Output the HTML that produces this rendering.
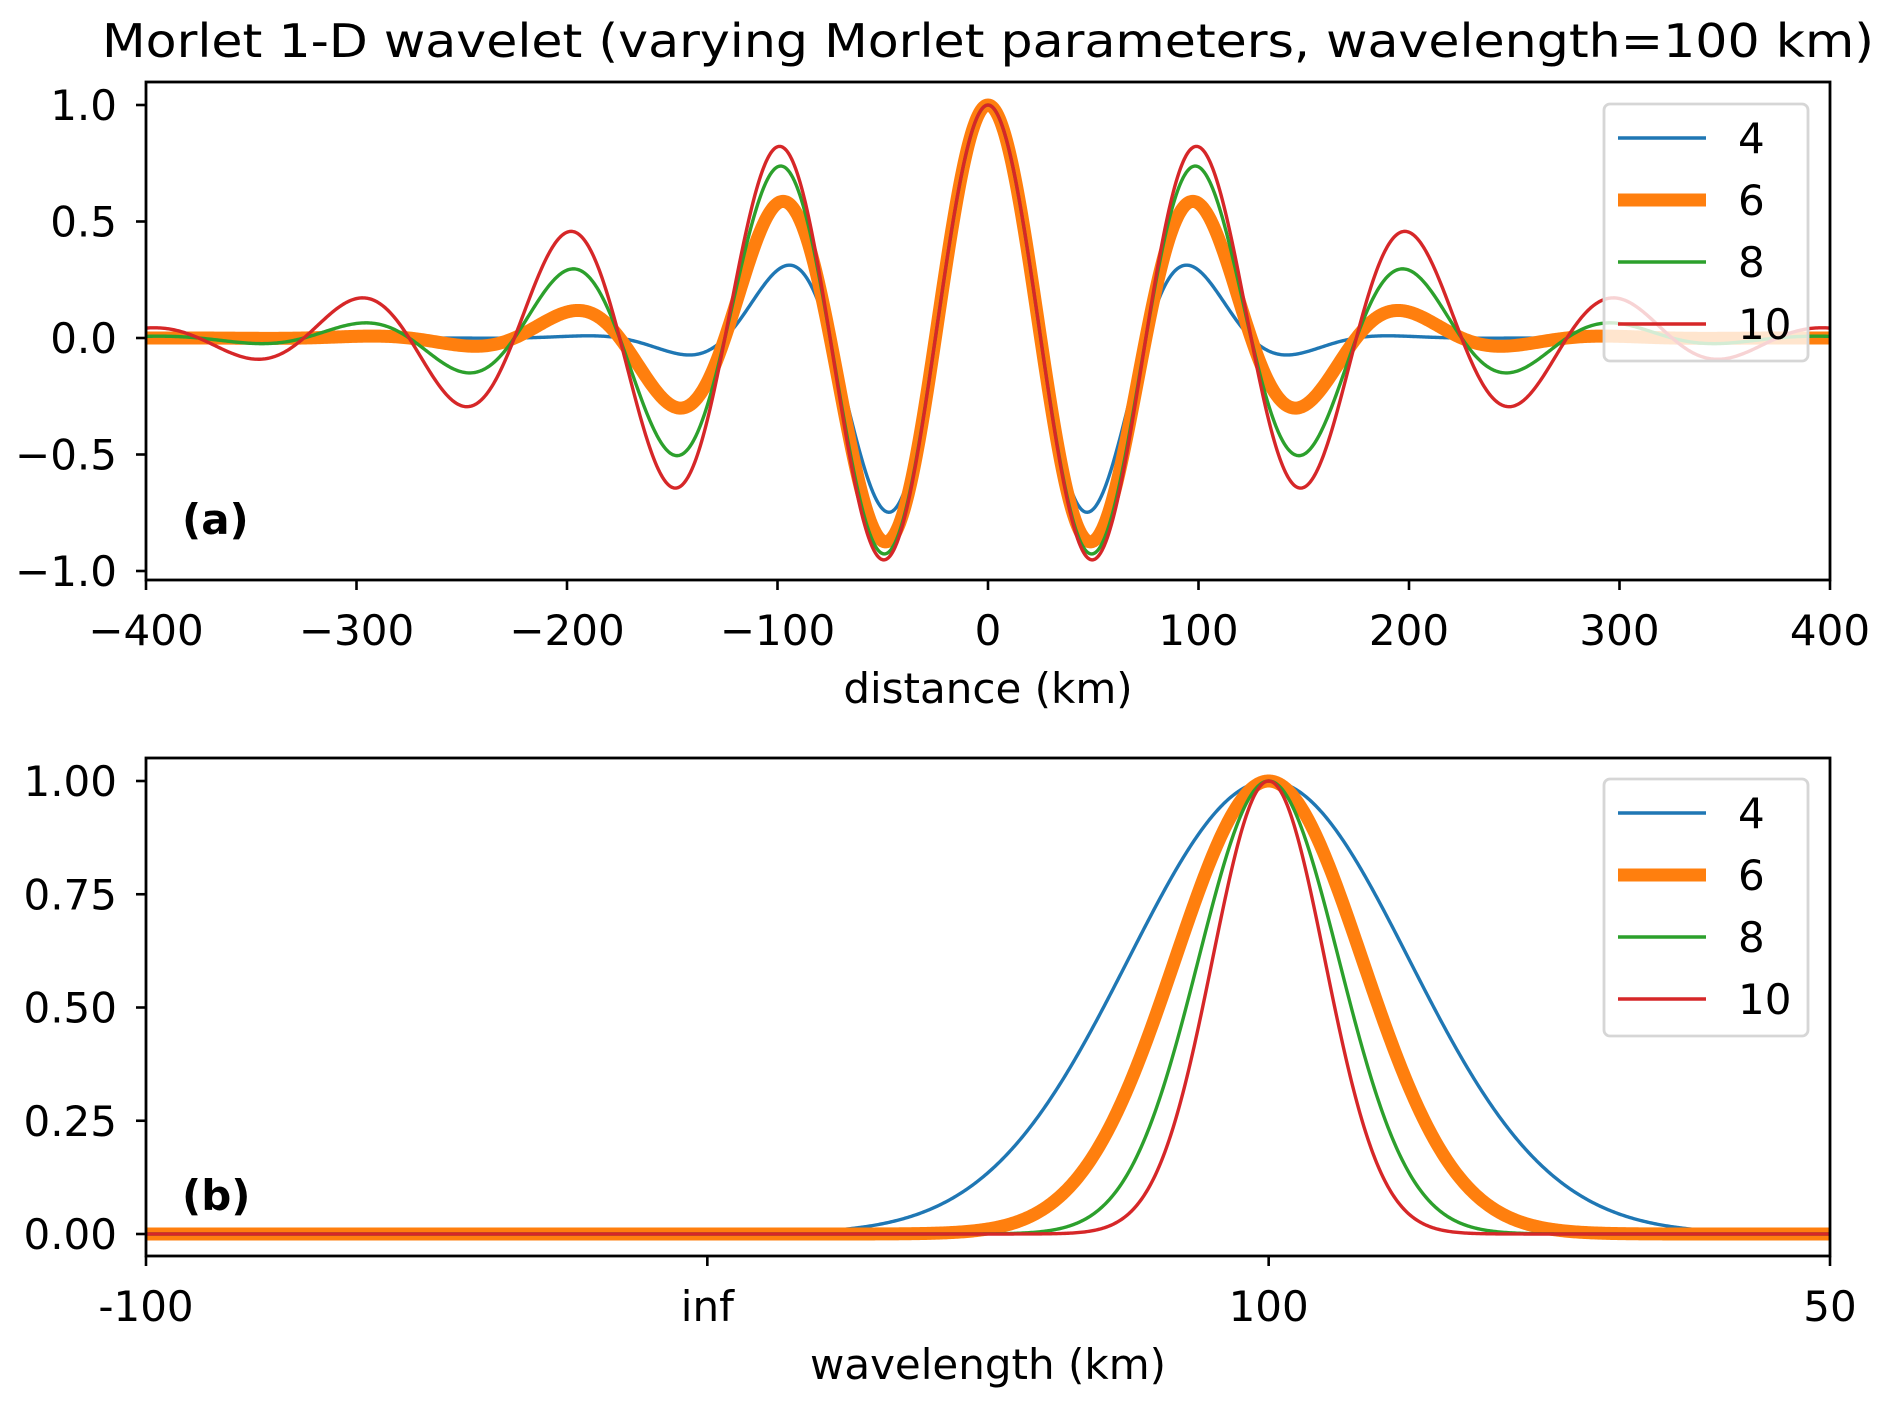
<!DOCTYPE html>
<html><head><meta charset="utf-8">
<style>
html,body{margin:0;padding:0;background:#fff;}
svg{display:block;font-family:"DejaVu Sans","Liberation Sans",sans-serif;}
</style></head>
<body>
<svg id="fig" width="1892" height="1406" viewBox="0 0 1892 1406" xmlns="http://www.w3.org/2000/svg">
<text x="988" y="57" font-size="46" text-anchor="middle" textLength="1772" lengthAdjust="spacingAndGlyphs">Morlet 1-D wavelet (varying Morlet parameters, wavelength=100 km)</text>
<g id="pa"></g>
<g id="pb"></g>
</svg>
<script>
// data
const morletParams = [4, 6, 8, 10];
const seriesColors = ['#1f77b4', '#ff7f0e', '#2ca02c', '#d62728'];
const seriesWidths = [3.4, 13, 3.4, 3.4];
const wavelength = 100;
const xTicksA = [-400, -300, -200, -100, 0, 100, 200, 300, 400];
const yTicksA = [1.0, 0.5, 0.0, -0.5, -1.0];
const yTickLabelsA = ['1.0', '0.5', '0.0', '\u22120.5', '\u22121.0'];
const xTicksB = [-0.01, 0, 0.01, 0.02];
const xTickLabelsB = ['-100', 'inf', '100', '50'];
const yTicksB = [1.0, 0.75, 0.5, 0.25, 0.0];
const yTickLabelsB = ['1.00', '0.75', '0.50', '0.25', '0.00'];

const NS = 'http://www.w3.org/2000/svg';
function mk(tag, attrs, parent) {
  const e = document.createElementNS(NS, tag);
  for (const k in attrs) e.setAttribute(k, attrs[k]);
  parent.appendChild(e);
  return e;
}
function lin(d0, d1, r0, r1) { return v => r0 + (v - d0) * (r1 - r0) / (d1 - d0); }
const FS = 42;

function panel(g, box, xs, ys, xTicks, xLabels, yTicks, yLabels, xTitle, tag, curveFn, xmin, xmax) {
  const clipId = 'clip' + tag;
  const cp = mk('clipPath', {id: clipId}, g);
  mk('rect', {x: box.l, y: box.t, width: box.r - box.l, height: box.b - box.t}, cp);
  const cg = mk('g', {'clip-path': 'url(#' + clipId + ')'}, g);
  morletParams.forEach((p, i) => {
    let d = '';
    const N = 1200;
    for (let j = 0; j <= N; j++) {
      const x = xmin + (xmax - xmin) * j / N;
      d += (j ? 'L' : 'M') + xs(x).toFixed(2) + ',' + ys(curveFn(x, p)).toFixed(2);
    }
    const path = mk('path', {d: d, fill: 'none', stroke: seriesColors[i], 'stroke-width': seriesWidths[i], 'stroke-linejoin': 'round'}, cg);
    
    
  });
  const fr = mk('rect', {x: box.l, y: box.t, width: box.r - box.l, height: box.b - box.t, fill: 'none', stroke: '#000', 'stroke-width': 2.8}, g);
  
  
  xTicks.forEach((v, i) => {
    const x = xs(v);
    mk('line', {x1: x, x2: x, y1: box.b, y2: box.b + 10, stroke: '#000', 'stroke-width': 2.6}, g);
    const t = mk('text', {x: x, y: box.b + 65, 'font-size': FS, 'text-anchor': 'middle'}, g);
    t.textContent = xLabels[i];
    
    
  });
  yTicks.forEach((v, i) => {
    const y = ys(v);
    mk('line', {x1: box.l - 10, x2: box.l, y1: y, y2: y, stroke: '#000', 'stroke-width': 2.6}, g);
    const t = mk('text', {x: box.l - 29, y: y + 15, 'font-size': FS, 'text-anchor': 'end'}, g);
    t.textContent = yLabels[i];
    
    
  });
  const xt = mk('text', {x: (box.l + box.r) / 2, y: box.b + 123, 'font-size': FS, 'text-anchor': 'middle'}, g);
  xt.textContent = xTitle;
  
  
  const pl = mk('text', {x: 182, y: box.panelY, 'font-size': FS, 'font-weight': 'bold'}, g);
  pl.textContent = '(' + tag + ')';
  
  
  const lg = mk('g', {}, g);
  
  
  mk('rect', {x: 1604, y: box.legY, width: 204, height: 257, rx: 6, fill: 'rgba(255,255,255,0.8)', stroke: '#d6d6d6', 'stroke-width': 2.8}, lg);
  morletParams.forEach((p, i) => {
    const y = box.legY + 34 + i * 62;
    const e = mk('g', {}, lg);
    
    
    mk('line', {x1: 1618, x2: 1706, y1: y, y2: y, stroke: seriesColors[i], 'stroke-width': seriesWidths[i]}, e);
    const t = mk('text', {x: 1738, y: y + 15, 'font-size': FS}, e);
    t.textContent = String(p);
  });
}

const boxA = {l: 146, r: 1830, t: 82, b: 580, legY: 104, panelY: 534};
const xsA = lin(-400, 400, boxA.l, boxA.r);
const ysA = lin(1, -1, 105, 571);
panel(document.getElementById('pa'), boxA, xsA, ysA, xTicksA, xTicksA.map(v => v < 0 ? '\u2212' + (-v) : String(v)),
  yTicksA, yTickLabelsA, 'distance (km)', 'a',
  (x, p) => { const s = p * wavelength / (2 * Math.PI); return Math.exp(-x * x / (2 * s * s)) * Math.cos(2 * Math.PI * x / wavelength); },
  -400, 400);

const boxB = {l: 146, r: 1830, t: 758, b: 1256, legY: 779, panelY: 1210};
const xsB = lin(-0.01, 0.02, boxB.l, boxB.r);
const ysB = lin(1, 0, 781, 1234);
panel(document.getElementById('pb'), boxB, xsB, ysB, xTicksB, xTickLabelsB,
  yTicksB, yTickLabelsB, 'wavelength (km)', 'b',
  (k, p) => { const s = p * wavelength / (2 * Math.PI); const dk = (k - 1 / wavelength) * 2 * Math.PI * s; return Math.exp(-dk * dk / 2); },
  -0.01, 0.02);
</script>
</body></html>
